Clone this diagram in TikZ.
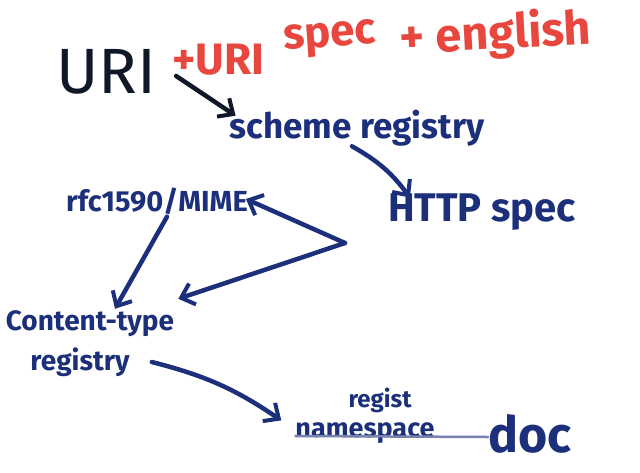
\documentclass[tikz,border=0pt]{standalone}
\usepackage{fontspec}
\setmainfont{Fira Sans}
\usetikzlibrary{arrows.meta}
\definecolor{navy}{HTML}{1C2F7A}
\definecolor{inkblack}{HTML}{101828}
\definecolor{marker}{HTML}{E8473F}
\tikzset{
  lbl/.style={inner sep=0pt, text=navy},
  note/.style={inner sep=0pt, text=marker, font=\bfseries\fontsize{44}{44}\selectfont},
  conn/.style={draw=navy, line width=4.5pt, line cap=round, -{Straight Barb[length=12pt,width=22pt,line width=4pt]}},
}
\begin{document}
\begin{tikzpicture}[x=1pt,y=-1pt]
\useasboundingbox[fill=white] (0,0) rectangle (640,472);
\node[lbl, text=inkblack, font=\fontsize{64}{64}\selectfont] (uri) at (106,72) {URI};
\node[note, anchor=base west] (n1) at (172,74) {+URI};
\node[note, anchor=base west, rotate=4] (n2) at (284,50) {spec};
\node[note, anchor=base west, rotate=3] (n3) at (400,54) {\fontsize{47}{47}\selectfont + english};
\node[lbl, font=\bfseries\fontsize{35}{35}\selectfont] (scheme) at (357,128) {scheme registry};
\node[lbl, font=\bfseries\fontsize{40}{40}\selectfont] (http) at (482,212) {HTTP spec};
\node[lbl, font=\bfseries\fontsize{29}{29}\selectfont] (rfc) at (157,201) {rfc1590/MIME};
\node[lbl, font=\bfseries\fontsize{28}{28}\selectfont] (ct) at (90,324) {Content-type};
\node[lbl, font=\bfseries\fontsize{28}{28}\selectfont] (reg) at (80,362) {registry};
\node[lbl, font=\bfseries\fontsize{27}{27}\selectfont] (ns) at (365,433) {namespace};
\node[lbl, font=\bfseries\fontsize{24}{24}\selectfont] (regist) at (380,400) {regist};
\node[lbl, font=\bfseries\fontsize{50}{50}\selectfont] (doc) at (530,434) {doc};
\coordinate (v) at (345,243);
\draw[navy!60, line width=2.5pt, line cap=round] ([yshift=-3pt]ns.west) -- ([yshift=-3pt]doc.west);
\draw[conn, draw=inkblack] ([xshift=20pt,yshift=-4pt]uri.east) -- ([xshift=6pt,yshift=-6pt]scheme.north west);
\draw[conn] ([xshift=-5pt]scheme.south) to[bend left=12] ([xshift=22pt,yshift=-4pt]http.north west);
\draw[conn] (v) -- ([xshift=-2pt,yshift=2pt]rfc.east);
\draw[conn] (v) -- ([xshift=4pt,yshift=12pt]ct.north east);
\draw[conn] ([xshift=10pt,yshift=-2pt]rfc.south) -- ([xshift=25pt,yshift=2pt]ct.north);
\draw[conn] ([xshift=22pt]reg.east) to[bend left=10] ([xshift=-14pt,yshift=2pt]ns.north west);
\end{tikzpicture}
\end{document}
